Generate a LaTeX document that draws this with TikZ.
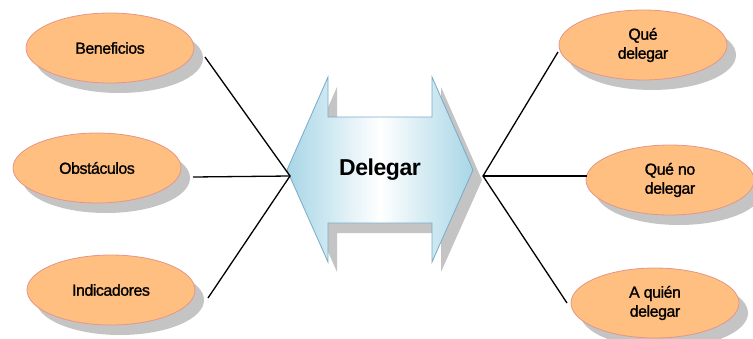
\documentclass[tikz,border=0pt]{standalone}
\usepackage{fontspec}
\setmainfont{Liberation Sans}
\usetikzlibrary{shapes.geometric,shadows}
\definecolor{ovfill}{RGB}{255,191,128}
\definecolor{ovline}{RGB}{228,150,135}
\definecolor{shgray}{RGB}{196,196,196}
\definecolor{arblue}{RGB}{168,214,230}
\definecolor{arline}{RGB}{120,170,200}
\tikzset{
  oval/.style={ellipse, draw=ovline, line width=0.8pt, fill=ovfill,
    minimum width=168pt, minimum height=70pt, inner sep=0pt,
    align=center, font=\fontsize{16}{19}\selectfont\addfontfeature{LetterSpace=-3,FakeBold=1.2},
    drop shadow={shadow xshift=9pt, shadow yshift=-10pt, fill=shgray, opacity=1}},
  conn/.style={draw=black, line width=1.3pt}
}
\begin{document}
\begin{tikzpicture}[x=1pt,y=-1pt]
\useasboundingbox (0,0) rectangle (753,338);
% central double arrow
\path[fill=shgray] (296,180) -- (337,87) -- (337,127) -- (441,127) -- (441,87) -- (482,180)
  -- (441,272) -- (441,233) -- (337,233) -- (337,272) -- cycle;
\path[draw=arline, line width=0.8pt, left color=arblue, right color=arblue, middle color=white]
  (287,170) coordinate (ltip) -- (328,77) -- (328,117) -- (432,117) -- (432,77) -- (473,170) coordinate (rtip)
  -- (432,262) -- (432,223) -- (328,223) -- (328,262) -- cycle;
\node[font=\fontsize{23}{27}\selectfont\bfseries\addfontfeature{LetterSpace=-2}] (deleg) at (380,170) {Delegar};
% ovals
\node[oval] (ben) at (110,48) {Beneficios};
\node[oval] (obs) at (97,168) {Obstáculos};
\node[oval] (ind) at (111,290) {Indicadores};
\node[oval] (que) at (643,45) {Qué\\delegar};
\node[oval] (qno) at (670,180) {Qué no\\delegar};
\node[oval] (aqu) at (655,303) {A quién\\delegar};
% connector endpoints
\coordinate (lap) at (290,176);
\coordinate (rap) at (483,176);
\coordinate (b1) at (205,57);
\coordinate (o1) at (193,177);
\coordinate (i1) at (208,298);
\coordinate (q1) at (558,52);
\coordinate (n1) at (587,176);
\coordinate (a1) at (567,303);
\draw[conn] (b1) -- (lap) -- (i1);
\draw[conn] (o1) -- (lap);
\draw[conn] (q1) -- (rap) -- (a1);
\draw[conn] (n1) -- (rap);
\end{tikzpicture}
\end{document}
